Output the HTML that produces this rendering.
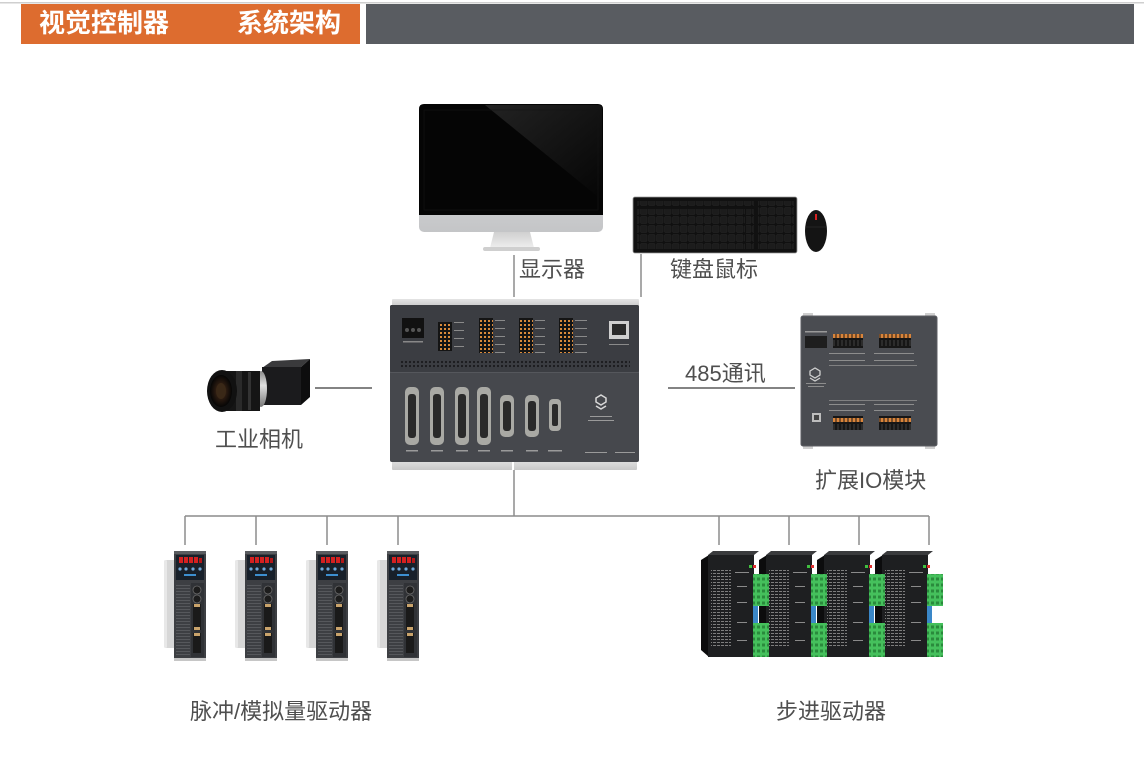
<!DOCTYPE html>
<html><head><meta charset="utf-8"><style>
html,body{margin:0;padding:0;background:#fff;width:1144px;height:766px;overflow:hidden}
svg{display:block}
.lb{font-family:"Liberation Sans","Noto Sans CJK SC",sans-serif;font-size:22px;fill:#4f4f4f}
.tt{font-family:"Liberation Sans","Noto Sans CJK SC",sans-serif;font-size:26px;font-weight:bold;fill:#fff}
</style></head><body>
<svg width="1144" height="766" viewBox="0 0 1144 766" xmlns="http://www.w3.org/2000/svg">
<defs>
  <linearGradient id="chin" x1="0" y1="0" x2="0" y2="1"><stop offset="0" stop-color="#e9eaec"/><stop offset="1" stop-color="#c4c5c7"/></linearGradient>
  <linearGradient id="neck" x1="0" y1="0" x2="0" y2="1"><stop offset="0" stop-color="#d0d0d0"/><stop offset="1" stop-color="#eeeeee"/></linearGradient>
  <linearGradient id="shine" x1="0" y1="0" x2="1" y2="1"><stop offset="0" stop-color="#2a2a2a"/><stop offset="1" stop-color="#050505"/></linearGradient>
  <linearGradient id="ear" x1="0" y1="0" x2="0" y2="1"><stop offset="0" stop-color="#e4e4e4"/><stop offset="1" stop-color="#c8c8c8"/></linearGradient>
  <linearGradient id="ring" x1="0" y1="0" x2="0" y2="1"><stop offset="0" stop-color="#8a8a8a"/><stop offset=".4" stop-color="#e0e0e0"/><stop offset="1" stop-color="#777"/></linearGradient>
  <radialGradient id="glass" cx=".5" cy=".5" r=".5"><stop offset="0" stop-color="#6a4a2a"/><stop offset=".5" stop-color="#2a1a10"/><stop offset="1" stop-color="#050505"/></radialGradient>
  <pattern id="keys" width="8" height="9" patternUnits="userSpaceOnUse"><rect width="8" height="9" fill="#101010"/><rect x="0.5" y="0.5" width="6.5" height="7" rx="1" fill="#1c1c1c" stroke="#262626" stroke-width=".5"/></pattern>
  <pattern id="vdots" width="4" height="4" patternUnits="userSpaceOnUse"><circle cx="2" cy="2" r="1.1" fill="#1a1b1d"/></pattern>
  <pattern id="vent" width="4" height="3" patternUnits="userSpaceOnUse"><rect width="4" height="1" fill="#56585c"/></pattern>
  <pattern id="txt" width="4" height="3" patternUnits="userSpaceOnUse"><rect width="3" height="1" fill="#7d7d7d"/></pattern>
  <pattern id="tblk" width="4" height="4" patternUnits="userSpaceOnUse"><rect width="4" height="4" fill="#141414"/><rect x="0" y="0" width="2" height="2" fill="#d98a3a"/></pattern>
  <pattern id="iot" width="4" height="14" patternUnits="userSpaceOnUse"><rect width="4" height="14" fill="#161616"/><rect x="0.5" y="0" width="3" height="2" fill="#d9843a"/><rect x="0.5" y="12" width="3" height="2" fill="#d9843a"/><rect x="1" y="4" width="2" height="6" fill="#2c2c2c"/></pattern>
  <pattern id="grn" width="5" height="6" patternUnits="userSpaceOnUse"><rect width="5" height="6" fill="#45c05c"/><rect x="1" y="1.5" width="3" height="3" fill="#2a8a3c"/></pattern>

  <g id="servo">
    <rect x="-10" y="560" width="14" height="88" rx="3" fill="#d7d7d7"/>
    <rect x="-10" y="560" width="3" height="88" rx="1.5" fill="#e8e8e8"/>
    <rect x="0" y="551" width="32" height="110" fill="#3d3f43"/>
    <rect x="0" y="551" width="32" height="3" fill="#5a5c60"/>
    <rect x="2" y="555" width="28" height="25" fill="#18202a"/>
    <rect x="5" y="557" width="4" height="6" fill="#d42020"/>
    <rect x="10" y="557" width="4" height="6" fill="#d42020"/>
    <rect x="15" y="557" width="4" height="6" fill="#d42020"/>
    <rect x="20" y="557" width="4" height="6" fill="#d42020"/>
    <rect x="25" y="558" width="3" height="5" fill="#b01818"/>
    <circle cx="6" cy="569" r="1.6" fill="#6fa8d8"/>
    <circle cx="12" cy="569" r="1.6" fill="#6fa8d8"/>
    <circle cx="19" cy="569" r="1.6" fill="#6fa8d8"/>
    <circle cx="26" cy="569" r="1.6" fill="#6fa8d8"/>
    <rect x="10" y="574" width="12" height="2" fill="#3d8fd0"/>
    <rect x="2" y="584" width="14" height="73" fill="url(#vent)"/>
    <rect x="17" y="583" width="13" height="74" fill="#303236"/>
    <circle cx="23" cy="590" r="4" fill="#1d1d1d" stroke="#6a6a6a" stroke-width=".8"/>
    <circle cx="23" cy="599" r="4" fill="#1d1d1d" stroke="#6a6a6a" stroke-width=".8"/>
    <rect x="19" y="604" width="8" height="26" fill="#1a1a1a"/>
    <rect x="20" y="604" width="6" height="3" fill="#c9a36b"/>
    <rect x="20" y="627" width="6" height="3" fill="#c9a36b"/>
    <rect x="19" y="633" width="8" height="20" fill="#1a1a1a"/>
    <rect x="20" y="633" width="6" height="3" fill="#c9a36b"/>
    <rect x="0" y="658" width="32" height="3" fill="#c6c6c6"/>
  </g>

  <g id="step">
    <!-- side face -->
    <polygon points="0,560 8,555 8,657 0,650" fill="#0c0c0d"/>
    <!-- front face -->
    <rect x="7" y="555" width="46" height="102" fill="#1e1f21"/>
    <polygon points="7,555 12,551 58,551 53,555" fill="#3a3b3d"/>
    <rect x="10" y="570" width="20" height="76" fill="url(#txt)"/>
    <rect x="34" y="572" width="14" height="1" fill="#8a8a8a"/>
    <rect x="36" y="586" width="10" height="1" fill="#8a8a8a"/>
    <rect x="36" y="602" width="10" height="1" fill="#8a8a8a"/>
    <rect x="36" y="622" width="10" height="1" fill="#8a8a8a"/>
    <rect x="36" y="640" width="10" height="1" fill="#8a8a8a"/>
    <rect x="48" y="565" width="3" height="3" fill="#40c040"/>
    <rect x="52" y="565" width="3" height="3" fill="#e03030"/>
    <!-- terminals -->
    <rect x="52" y="574" width="16" height="32" fill="url(#grn)"/>
    <rect x="52" y="606" width="5" height="17" fill="#3a87c8"/>
    <rect x="52" y="623" width="16" height="34" fill="url(#grn)"/>
  </g>
</defs>

<!-- header -->
<rect x="0" y="2" width="1144" height="1.5" fill="#cfcfcf"/>
<rect x="21" y="4" width="339" height="40" fill="#dd6c2f"/>
<rect x="366" y="4" width="768" height="40" fill="#595c61"/>
<text class="tt" x="39" y="32">视觉控制器</text>
<text class="tt" x="237" y="32">系统架构</text>

<!-- connectors -->
<g stroke="#8c8c8c" stroke-width="1.5" fill="none">
  <line x1="514" y1="255" x2="514" y2="297"/>
  <line x1="641" y1="254" x2="641" y2="297"/>
  <line x1="514" y1="470" x2="514" y2="516"/>
  <line x1="185" y1="516" x2="929" y2="516"/>
  <line x1="185" y1="516" x2="185" y2="545"/>
  <line x1="256" y1="516" x2="256" y2="545"/>
  <line x1="327" y1="516" x2="327" y2="545"/>
  <line x1="398" y1="516" x2="398" y2="545"/>
  <line x1="719" y1="516" x2="719" y2="545"/>
  <line x1="789" y1="516" x2="789" y2="545"/>
  <line x1="859" y1="516" x2="859" y2="545"/>
  <line x1="929" y1="516" x2="929" y2="545"/>
</g>
<g stroke="#5a5a5a" stroke-width="1.5">
  <line x1="315" y1="388" x2="372" y2="388"/>
  <line x1="668" y1="388" x2="795" y2="388"/>
</g>

<!-- monitor -->
<rect x="419" y="104" width="184" height="128" rx="5" fill="url(#chin)"/>
<path d="M424 104 H598 Q603 104 603 109 V215 H419 V109 Q419 104 424 104 Z" fill="#050505"/>
<path d="M485 105 H598 Q602 105 602 109 V200 Z" fill="url(#shine)" opacity=".8"/>
<rect x="424" y="110" width="174" height="100" fill="none" stroke="#151515" stroke-width=".6"/>
<polygon points="494,232 530,232 534,248 490,248" fill="url(#neck)"/>
<rect x="483" y="247" width="57" height="4" rx="2" fill="#cfcfcf"/>

<!-- keyboard & mouse -->
<rect x="633" y="197" width="164" height="56" rx="2" fill="#111" stroke="#9a9a9a" stroke-width=".8"/>
<rect x="637" y="201" width="117" height="6" fill="url(#keys)"/>
<rect x="637" y="209" width="108" height="40" fill="url(#keys)"/>
<rect x="746" y="209" width="8" height="40" fill="url(#keys)"/>
<rect x="758" y="201" width="36" height="48" fill="url(#keys)"/>
<ellipse cx="816" cy="231" rx="11" ry="21" fill="#141414"/>
<path d="M806 227 H826" stroke="#2a2a2a" stroke-width=".8"/>
<rect x="815" y="214" width="2" height="6" fill="#d42020"/>

<!-- labels -->
<text class="lb" x="519" y="277">显示器</text>
<text class="lb" x="670" y="277">键盘鼠标</text>
<text class="lb" x="215" y="447">工业相机</text>
<text class="lb" x="685" y="381">485通讯</text>
<text class="lb" x="815" y="488">扩展IO模块</text>
<text class="lb" x="190" y="719">脉冲/模拟量驱动器</text>
<text class="lb" x="776" y="719">步进驱动器</text>

<!-- controller -->
<rect x="392" y="299" width="247" height="8" rx="1" fill="url(#ear)"/>
<rect x="392" y="459" width="245" height="11" rx="1" fill="url(#ear)"/>
<rect x="512" y="459" width="2" height="11" fill="#fff"/>
<rect x="390" y="305" width="249" height="157" rx="2" fill="#46484d"/>
<rect x="390" y="305" width="249" height="67" rx="2" fill="#3b3d42"/>
<rect x="400" y="360" width="230" height="9" fill="url(#vdots)"/>
<rect x="390" y="372" width="249" height="1" fill="#55575c"/>
<rect x="402" y="318" width="22" height="20" fill="#111"/>
<circle cx="407" cy="330" r="2" fill="#555"/><circle cx="413" cy="330" r="2" fill="#555"/><circle cx="419" cy="330" r="2" fill="#555"/>
<rect x="403" y="341" width="20" height="1.5" fill="#888"/>
<rect x="438" y="322" width="14" height="29" fill="url(#tblk)"/>
<rect x="479" y="318" width="14" height="35" fill="url(#tblk)"/>
<rect x="519" y="318" width="14" height="35" fill="url(#tblk)"/>
<rect x="559" y="318" width="14" height="35" fill="url(#tblk)"/>
<g fill="#8a8a8a">
  <rect x="454" y="322" width="10" height="1"/><rect x="454" y="330" width="10" height="1"/><rect x="454" y="338" width="10" height="1"/><rect x="454" y="346" width="10" height="1"/>
  <rect x="495" y="320" width="10" height="1"/><rect x="495" y="328" width="10" height="1"/><rect x="495" y="336" width="10" height="1"/><rect x="495" y="344" width="10" height="1"/><rect x="495" y="352" width="10" height="1"/>
  <rect x="535" y="320" width="10" height="1"/><rect x="535" y="328" width="10" height="1"/><rect x="535" y="336" width="10" height="1"/><rect x="535" y="344" width="10" height="1"/><rect x="535" y="352" width="10" height="1"/>
  <rect x="575" y="320" width="12" height="1"/><rect x="575" y="328" width="12" height="1"/><rect x="575" y="336" width="12" height="1"/><rect x="575" y="344" width="12" height="1"/><rect x="575" y="352" width="12" height="1"/>
  <rect x="609" y="344" width="20" height="1"/>
</g>
<rect x="609" y="321" width="20" height="18" fill="#cfcfcf"/>
<rect x="612" y="324" width="14" height="11" fill="#2a2a2a"/>
<!-- D-sub connectors -->
<g>
  <rect x="405" y="387" width="14" height="58" rx="5" fill="#a9a9a4"/><rect x="408" y="394" width="8" height="44" rx="3" fill="#2a2a2a"/>
  <rect x="430" y="387" width="14" height="58" rx="5" fill="#a9a9a4"/><rect x="433" y="394" width="8" height="44" rx="3" fill="#2a2a2a"/>
  <rect x="455" y="387" width="14" height="58" rx="5" fill="#a9a9a4"/><rect x="458" y="394" width="8" height="44" rx="3" fill="#2a2a2a"/>
  <rect x="477" y="387" width="14" height="58" rx="5" fill="#a9a9a4"/><rect x="480" y="394" width="8" height="44" rx="3" fill="#2a2a2a"/>
  <rect x="500" y="395" width="14" height="42" rx="5" fill="#a9a9a4"/><rect x="503" y="401" width="8" height="30" rx="3" fill="#2a2a2a"/>
  <rect x="525" y="395" width="14" height="42" rx="5" fill="#a9a9a4"/><rect x="528" y="401" width="8" height="30" rx="3" fill="#2a2a2a"/>
  <rect x="549" y="399" width="12" height="32" rx="4" fill="#a9a9a4"/><rect x="552" y="404" width="6" height="22" rx="2" fill="#2a2a2a"/>
</g>
<g fill="#9a9a9a">
  <rect x="406" y="450" width="12" height="1.5"/><rect x="431" y="450" width="12" height="1.5"/><rect x="456" y="450" width="12" height="1.5"/><rect x="478" y="450" width="12" height="1.5"/>
  <rect x="501" y="450" width="12" height="1.5"/><rect x="526" y="450" width="12" height="1.5"/><rect x="548" y="450" width="14" height="1.5"/>
  <rect x="585" y="452" width="22" height="1"/><rect x="615" y="452" width="20" height="1"/>
  <rect x="590" y="416" width="22" height="1"/><rect x="588" y="420" width="26" height="1"/>
</g>
<path d="M596 398 l5 -3 l5 3 v4 l-5 3 l-5 -3 z M596 406 l5 3 l5 -3" fill="none" stroke="#d8d8d8" stroke-width="1.5"/>

<!-- camera -->
<polygon points="262,368 272,361 310,359 301,367" fill="#3a3a3c"/>
<rect x="262" y="367" width="39" height="38" fill="#1b1b1d"/>
<polygon points="301,367 310,359 310,397 301,405" fill="#0d0d0e"/>
<ellipse cx="261" cy="389" rx="6" ry="18" fill="url(#ring)"/>
<rect x="222" y="371" width="38" height="40" fill="#151515"/>
<rect x="236" y="371" width="6" height="40" fill="#2a2a2a"/>
<rect x="248" y="372" width="3" height="38" fill="#333"/>
<ellipse cx="222" cy="391" rx="15" ry="21" fill="#111"/>
<ellipse cx="221" cy="391" rx="11" ry="16" fill="url(#glass)"/>
<ellipse cx="221" cy="391" rx="5" ry="8" fill="#3a2817"/>

<!-- IO module -->
<rect x="803" y="313" width="10" height="5" fill="#cfcfcf"/><rect x="925" y="313" width="10" height="5" fill="#cfcfcf"/>
<rect x="803" y="444" width="10" height="5" fill="#cfcfcf"/><rect x="925" y="444" width="10" height="5" fill="#cfcfcf"/>
<rect x="801" y="316" width="136" height="130" rx="2" fill="#4a4c51" stroke="#5c5e63" stroke-width="1"/>
<rect x="805" y="336" width="22" height="12" fill="#1e1e1e"/>
<rect x="805" y="331" width="22" height="1.5" fill="#999"/>
<rect x="833" y="334" width="30" height="14" fill="url(#iot)"/>
<rect x="879" y="334" width="32" height="14" fill="url(#iot)"/>
<rect x="833" y="416" width="30" height="14" fill="url(#iot)"/>
<rect x="879" y="416" width="32" height="14" fill="url(#iot)"/>
<g fill="#8d8d8d">
  <rect x="829" y="353" width="36" height="1"/><rect x="874" y="353" width="40" height="1"/>
  <rect x="829" y="360" width="36" height="1"/><rect x="874" y="360" width="40" height="1"/>
  <rect x="829" y="365" width="88" height=".8"/>
  <rect x="829" y="400" width="88" height=".8"/>
  <rect x="829" y="404" width="36" height="1"/><rect x="874" y="404" width="40" height="1"/>
  <rect x="829" y="410" width="36" height="1"/><rect x="874" y="410" width="40" height="1"/>
  <rect x="806" y="383" width="20" height="1"/><rect x="808" y="386" width="16" height="1"/>
</g>
<path d="M810 371 l5 -3 l5 3 v4 l-5 3 l-5 -3 z M810 378 l5 3 l5 -3" fill="none" stroke="#d0d0d0" stroke-width="1.3"/>
<rect x="812" y="413" width="9" height="9" fill="#bdbdbd"/><rect x="814" y="415" width="5" height="5" fill="#444"/>

<!-- servo drives -->
<use href="#servo" x="174"/>
<use href="#servo" x="245"/>
<use href="#servo" x="316"/>
<use href="#servo" x="387"/>

<!-- stepper drives (right ones drawn first so left ones are in front) -->
<use href="#step" x="875"/>
<use href="#step" x="817"/>
<use href="#step" x="759"/>
<use href="#step" x="701"/>
</svg>
</body></html>
